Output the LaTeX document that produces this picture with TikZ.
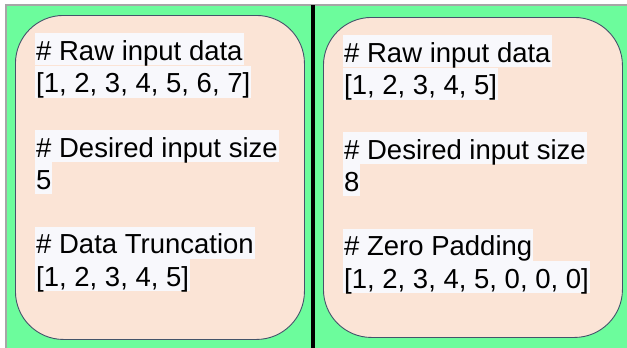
\documentclass[tikz,border=0pt]{standalone}
\usepackage{fontspec}
\setmainfont{Liberation Sans}
\usetikzlibrary{positioning}
\definecolor{mint}{HTML}{6CFC9C}
\definecolor{peach}{HTML}{FBE4D6}
\definecolor{hilite}{HTML}{F8F8FC}
\definecolor{edge}{HTML}{44546A}
\tikzset{
  panel/.style={draw=edge, line width=0.9pt, fill=peach, rounded corners=48pt,
    anchor=north west, inner sep=0pt},
  codeline/.style={anchor=north west, fill=hilite, inner xsep=1pt, inner ysep=0pt,
    text height=27pt, text depth=5pt, font=\fontsize{27.5}{32}\selectfont},
}
\begin{document}
\begin{tikzpicture}[x=1pt, y=-1pt]
      \useasboundingbox (0,0) rectangle (627,348);
      % background
      \fill[mint] (6,5) rectangle (627,348);
      \draw[gray!70, line width=1.2pt] (6,348) -- (6,5) -- (627,5);
      \draw[line width=4pt] (313,5) -- (313,348);
      % panels
      \node (trunc) [panel, minimum width=289pt, minimum height=324pt] at (15,15) {};
      \node (pad) [panel, minimum width=299pt, minimum height=320pt] at (323,17) {};
      % left text
      \node (t1) [codeline] at (35,33) {\# Raw input data};
      \node (t2) [codeline] at (t1.south west) {[1, 2, 3, 4, 5, 6, 7]};
      \node (t3) [codeline, below=32pt of t2.south west, anchor=north west] {\# Desired input size};
      \node (t4) [codeline] at (t3.south west) {5};
      \node (t5) [codeline, below=32pt of t4.south west, anchor=north west] {\# Data Truncation};
      \node (t6) [codeline] at (t5.south west) {[1, 2, 3, 4, 5]};
      % right text
      \node (p1) [codeline] at (343,35) {\# Raw input data};
      \node (p2) [codeline] at (p1.south west) {[1, 2, 3, 4, 5]};
      \node (p3) [codeline, below=32pt of p2.south west, anchor=north west] {\# Desired input size};
      \node (p4) [codeline] at (p3.south west) {8};
      \node (p5) [codeline, below=32pt of p4.south west, anchor=north west] {\# Zero Padding};
      \node (p6) [codeline] at (p5.south west) {[1, 2, 3, 4, 5, 0, 0, 0]};
\end{tikzpicture}
\end{document}
